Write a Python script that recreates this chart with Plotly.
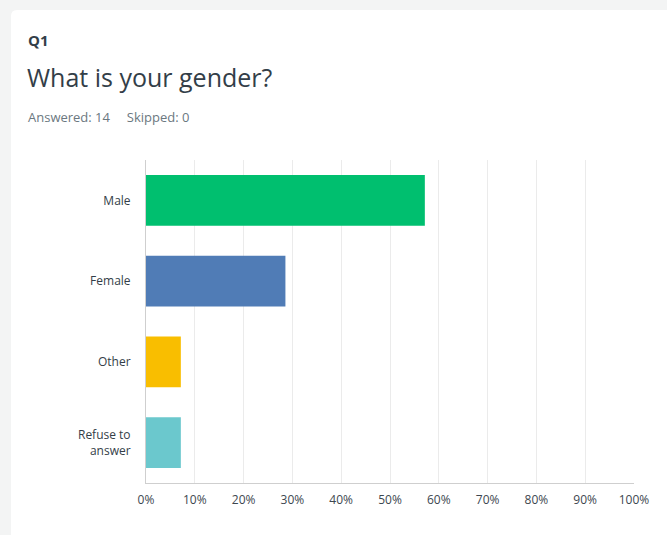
import plotly.graph_objects as go

categories = ["Male", "Female", "Other", "Refuse to<br>answer"]
percentages = [57.14, 28.57, 7.14, 7.14]
bar_colors = ["#00bf6f", "#507cb6", "#f9be00", "#6bc8cd"]
tick_vals = [0, 10, 20, 30, 40, 50, 60, 70, 80, 90, 100]
tick_text = [f"{v}%" for v in tick_vals]

W, H = 667, 535
L, R, T, B = 146, 33, 160, 52
PW, PH = W - L - R, H - T - B

def px(x):
    return (x - L) / PW

def py(y):
    return (H - B - y) / PH

FONT = "Open Sans"

fig = go.Figure(go.Bar(
    x=percentages, y=categories, orientation="h",
    marker=dict(color=bar_colors, line=dict(width=0)),
    hoverinfo="skip",
))

# white card
x0, y0, x1, y1, r = px(11), py(10), px(700), py(600), 6 / PW
ry = 6 / PH
card_path = (f"M {x0},{y1} L {x0},{y0 - ry} Q {x0},{y0} {x0 + r},{y0} "
             f"L {x1},{y0} L {x1},{y1} Z")

fig.update_layout(
    width=W, height=H,
    margin=dict(l=L, r=R, t=T, b=B),
    paper_bgcolor="#f3f4f4",
    plot_bgcolor="rgba(0,0,0,0)",
    showlegend=False,
    bargap=0.37,
    font=dict(family=FONT, color="#333e48", size=12),
    shapes=[dict(type="path", path=card_path, xref="paper", yref="paper",
                 fillcolor="#ffffff", line=dict(width=0), layer="below")],
    xaxis=dict(range=[0, 100], tickvals=tick_vals, ticktext=tick_text,
               showgrid=True, gridcolor="#ebebeb", gridwidth=1,
               zeroline=False, showline=True, linecolor="#cfcfcf", linewidth=1,
               tickfont=dict(size=12, color="#3d474f"), ticks="",
               ticklabelstandoff=6, fixedrange=True),
    yaxis=dict(autorange="reversed", showgrid=False, zeroline=False,
               showline=True, linecolor="#cfcfcf", linewidth=1, ticks="",
               tickfont=dict(size=12, color="#333e48"),
               ticklabelstandoff=12, fixedrange=True),
    annotations=[
        dict(text="<b>Q1</b>", x=px(26), y=py(40), xref="paper", yref="paper",
             xanchor="left", yanchor="middle", showarrow=False,
             font=dict(size=15, color="#333e48")),
        dict(text="What is your gender?", x=px(25), y=py(77), xref="paper", yref="paper",
             xanchor="left", yanchor="middle", showarrow=False,
             font=dict(size=25, color="#333e48")),
        dict(text="Answered: 14&nbsp;&nbsp;&nbsp;&nbsp;&nbsp;Skipped: 0", x=px(26), y=py(117),
             xref="paper", yref="paper", xanchor="left", yanchor="middle",
             showarrow=False, font=dict(size=13, color="#6b787f")),
    ],
)

fig.write_html("out.html")
